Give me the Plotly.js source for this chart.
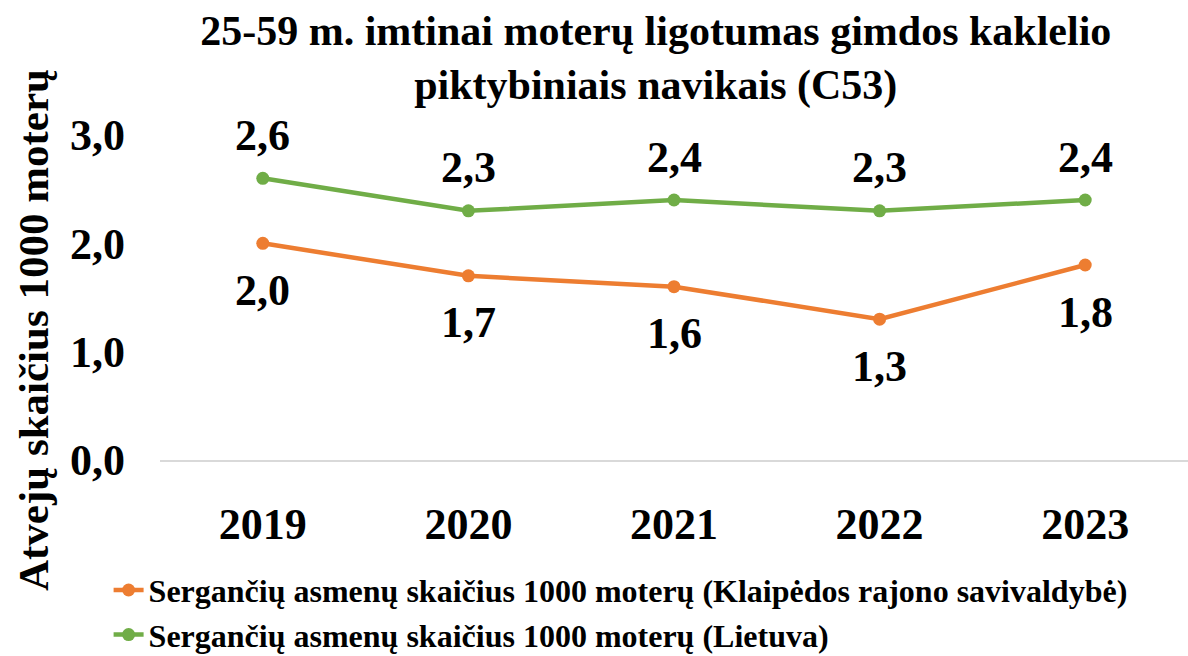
<!DOCTYPE html>
<html><head><meta charset="utf-8">
<script src="https://cdn.plot.ly/plotly-3.0.1.min.js"></script>
<style>body{margin:0}#c{width:1188px;height:656px}</style>
</head><body><div id="c"></div>
<script>
const years = ['2019','2020','2021','2022','2023'];
const klaipeda = [2.0, 1.7, 1.6, 1.3, 1.8];
const lietuva = [2.6, 2.3, 2.4, 2.3, 2.4];
const yTicks = [0, 1, 2, 3];
const nameK = 'Sergančių asmenų skaičius 1000 moterų (Klaipėdos rajono savivaldybė)';
const nameL = 'Sergančių asmenų skaičius 1000 moterų (Lietuva)';
const yTitle = 'Atvejų skaičius 1000 moterų';
const FONT = 'Liberation Serif';
const fmt = v => v.toFixed(1).replace('.', ',');

const traces = [
  {x: years, y: klaipeda, name: nameK, mode: 'lines+markers', type: 'scatter',
   line: {color: '#ED7D31', width: 4.5}, marker: {color: '#ED7D31', size: 13}},
  {x: years, y: lietuva, name: nameL, mode: 'lines+markers', type: 'scatter',
   line: {color: '#70AD47', width: 4.5}, marker: {color: '#70AD47', size: 13}}
];
const ann = [];
years.forEach((yr, i) => {
  ann.push({x: i, y: klaipeda[i], xref: 'x', yref: 'y', text: '<b>' + fmt(klaipeda[i]) + '</b>',
    showarrow: false, yshift: -47, font: {family: FONT, size: 44, color: '#000'}});
  ann.push({x: i, y: lietuva[i], xref: 'x', yref: 'y', text: '<b>' + fmt(lietuva[i]) + '</b>',
    showarrow: false, yshift: 43, font: {family: FONT, size: 44, color: '#000'}});
});
ann.push({x: -0.1235, y: 0.4, xref: 'paper', yref: 'paper', xanchor: 'center', yanchor: 'middle',
  textangle: -90, showarrow: false, text: '<b>' + yTitle + '</b>',
  font: {family: FONT, size: 43, color: '#000'}});
const layout = {
  width: 1188, height: 656,
  margin: {l: 160, r: 0, t: 135, b: 196, autoexpand: false},
  paper_bgcolor: '#fff', plot_bgcolor: '#fff',
  separators: ',.',
  font: {family: FONT, color: '#000'},
  title: {text: '<b>25-59 m. imtinai moterų ligotumas gimdos kaklelio<br>piktybiniais navikais (C53)</b>',
    x: 0.552, xanchor: 'center', y: 0.932, yanchor: 'middle',
    font: {family: FONT, size: 42, color: '#000'}},
  xaxis: {type: 'category', range: [-0.5, 4.5], showgrid: false, zeroline: false,
    showline: true, linecolor: '#d9d9d9', linewidth: 2, ticks: '', automargin: false,
    ticklabelstandoff: 24, tickfont: {family: FONT, size: 44, color: '#000', weight: 'bold'}},
  yaxis: {range: [0, 3], tickvals: yTicks, tickformat: '.1f', showgrid: false, zeroline: false,
    showline: false, ticks: '', ticklabelstandoff: 34, automargin: false,
    tickfont: {family: FONT, size: 44, color: '#000', weight: 'bold'}},
  showlegend: true,
  legend: {orientation: 'v', x: -0.05, xanchor: 'left', y: -0.316, yanchor: 'top',
    font: {family: FONT, size: 32, color: '#000', weight: 'bold'}, tracegroupgap: 0,
    bgcolor: 'rgba(0,0,0,0)'},
  annotations: ann
};
Plotly.newPlot('c', traces, layout, {displayModeBar: false, staticPlot: true});
</script></body></html>
